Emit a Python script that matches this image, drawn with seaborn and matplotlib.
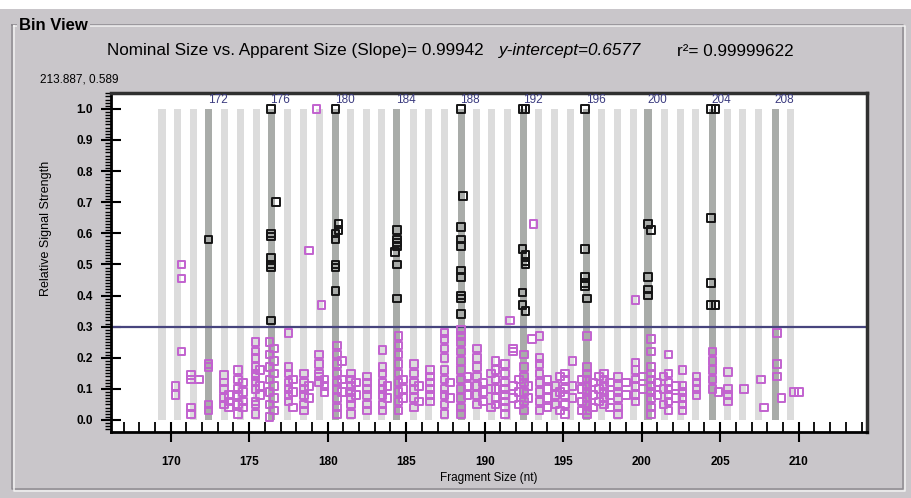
import numpy as np
import pandas as pd
import seaborn as sns
import matplotlib.pyplot as plt
from matplotlib.patches import Rectangle
from matplotlib.lines import Line2D
from matplotlib.ticker import MultipleLocator

# bins (nominal size) and where they sit on the apparent-size axis
bin_nominal = list(range(169, 210))
bin_center = [169.45, 170.45, 171.45, 172.4, 173.45, 174.45, 175.45, 176.4, 177.45, 178.45,
              179.45, 180.5, 181.45, 182.45, 183.45, 184.4, 185.45, 186.45, 187.45, 188.5,
              189.45, 190.45, 191.45, 192.5, 193.45, 194.45, 195.45, 196.5, 197.45, 198.45,
              199.45, 200.4, 201.45, 202.45, 203.45, 204.5, 205.45, 206.45, 207.45, 208.5,
              209.45]
labelled_bins = [172, 176, 180, 184, 188, 192, 196, 200, 204, 208]

# called peaks (black squares), one column per bin
black_cols_x = [172.4, 176.4, 176.7, 180.5, 180.7, 184.4, 184.3, 188.5, 188.6,
                192.4, 192.6, 196.4, 196.5, 200.4, 200.6, 204.4, 204.7]
black_cols_y = [
    [0.58],
    [1.0, 0.60, 0.59, 0.52, 0.50, 0.49, 0.32],
    [0.70],
    [1.0, 0.60, 0.58, 0.50, 0.49, 0.415],
    [0.63, 0.61],
    [0.61, 0.58, 0.57, 0.56, 0.50, 0.39],
    [0.54],
    [1.0, 0.62, 0.58, 0.56, 0.48, 0.46, 0.40, 0.39, 0.34],
    [0.72],
    [1.0, 0.55, 0.41, 0.37],
    [1.0, 0.53, 0.51, 0.50, 0.35],
    [1.0, 0.55, 0.46, 0.44, 0.43],
    [0.39],
    [0.63, 0.46, 0.42, 0.40],
    [0.61],
    [1.0, 0.65, 0.44, 0.37],
    [1.0, 0.37],
]

# other peaks (pink squares)
pink_cols_x = [170.3, 170.7, 171.3, 171.8, 172.4, 173.4, 173.7, 174.3, 174.6, 175.4,
               175.7, 176.3, 176.6, 177.5, 177.8, 178.5, 178.8, 179.3, 179.45, 179.6,
               179.8, 180.6, 180.9, 181.5, 181.8, 182.5, 183.5, 183.8, 184.5, 184.8,
               185.5, 185.8, 186.5, 187.45, 187.8, 188.5, 188.9, 189.5, 189.9, 190.4,
               190.7, 191.3, 191.6, 191.8, 192.2, 192.5, 192.8, 193.0, 193.1, 193.5,
               194.0, 194.5, 194.8, 195.1, 195.6, 196.2, 196.5, 196.9, 197.3, 197.6,
               198.0, 198.5, 199.0, 199.6, 200.1, 200.6, 201.0, 201.4, 201.7, 202.2,
               202.6, 203.5, 204.5, 204.9, 205.5, 206.5, 207.6, 207.8, 208.6, 208.9,
               209.7, 210.0]
pink_cols_y = [
    [0.11, 0.08],
    [0.50, 0.455, 0.22],
    [0.145, 0.13, 0.04, 0.02],
    [0.13],
    [0.18, 0.17, 0.05, 0.03],
    [0.145, 0.12, 0.10, 0.07, 0.05],
    [0.08, 0.06, 0.04],
    [0.16, 0.13, 0.10, 0.08, 0.05, 0.02],
    [0.12, 0.09, 0.06, 0.04],
    [0.25, 0.22, 0.20, 0.17, 0.15, 0.14, 0.12, 0.10, 0.06, 0.05, 0.02],
    [0.16, 0.11, 0.08],
    [0.25, 0.21, 0.17, 0.13, 0.09, 0.05, 0.01],
    [0.23, 0.19, 0.15, 0.11, 0.07, 0.03],
    [0.28, 0.17, 0.15, 0.12, 0.10, 0.08, 0.06],
    [0.13, 0.09, 0.04],
    [0.15, 0.12, 0.10, 0.08, 0.05, 0.03],
    [0.545, 0.11, 0.07],
    [1.0],
    [0.21, 0.18, 0.15, 0.12, 0.14],
    [0.37],
    [0.13, 0.11, 0.09],
    [0.24, 0.21, 0.18, 0.15, 0.12, 0.10, 0.07, 0.04, 0.02],
    [0.19, 0.13, 0.09],
    [0.15, 0.13, 0.11, 0.09, 0.07, 0.05, 0.02],
    [0.12, 0.08],
    [0.14, 0.12, 0.10, 0.08, 0.05, 0.03],
    [0.225, 0.17, 0.15, 0.12, 0.10, 0.08, 0.05, 0.03],
    [0.11, 0.07],
    [0.27, 0.24, 0.21, 0.18, 0.15, 0.12, 0.09, 0.06, 0.03],
    [0.13, 0.10, 0.07],
    [0.18, 0.15, 0.12, 0.10, 0.07, 0.04],
    [0.11, 0.06],
    [0.16, 0.14, 0.12, 0.10, 0.08, 0.06],
    [0.28, 0.26, 0.23, 0.20, 0.16, 0.13, 0.10, 0.08, 0.05, 0.02],
    [0.12, 0.07],
    [0.29, 0.27, 0.25, 0.22, 0.19, 0.16, 0.13, 0.10, 0.07, 0.04, 0.02],
    [0.14, 0.11, 0.08],
    [0.23, 0.20, 0.17, 0.14, 0.11, 0.08, 0.05],
    [0.12, 0.09, 0.06],
    [0.15, 0.10, 0.04],
    [0.19, 0.16, 0.13, 0.10, 0.07, 0.05],
    [0.18, 0.15, 0.12, 0.10, 0.08, 0.06, 0.04, 0.02],
    [0.32],
    [0.23, 0.22, 0.11, 0.07],
    [0.13, 0.09, 0.05],
    [0.21, 0.17, 0.14, 0.12, 0.09, 0.06, 0.03],
    [0.11, 0.07],
    [0.26],
    [0.63],
    [0.27, 0.20, 0.18, 0.15, 0.12, 0.09, 0.06, 0.03],
    [0.13, 0.10, 0.07, 0.04],
    [0.11, 0.08, 0.05],
    [0.14, 0.09, 0.03],
    [0.15, 0.13, 0.10, 0.08, 0.05, 0.02],
    [0.19, 0.11, 0.07],
    [0.13, 0.10, 0.06, 0.03],
    [0.27, 0.17, 0.15, 0.13, 0.11, 0.09, 0.07, 0.05, 0.03, 0.02],
    [0.12, 0.08, 0.04],
    [0.14, 0.10, 0.06],
    [0.15, 0.13, 0.11, 0.09, 0.07, 0.05],
    [0.12, 0.08, 0.04],
    [0.14, 0.11, 0.09, 0.07, 0.04, 0.02],
    [0.12, 0.08],
    [0.385, 0.185, 0.16, 0.13, 0.11, 0.08, 0.06],
    [0.14, 0.10],
    [0.26, 0.22, 0.17, 0.15, 0.13, 0.11, 0.09, 0.07, 0.04, 0.02],
    [0.12, 0.08],
    [0.14, 0.10, 0.05],
    [0.21, 0.15, 0.12, 0.10, 0.08, 0.06, 0.03],
    [0.11, 0.07],
    [0.16, 0.11, 0.09, 0.07, 0.05, 0.03],
    [0.14, 0.12, 0.10, 0.08],
    [0.22, 0.19, 0.16, 0.13, 0.10],
    [0.09],
    [0.155, 0.10, 0.08, 0.06],
    [0.10],
    [0.13],
    [0.04],
    [0.28, 0.18, 0.14],
    [0.07],
    [0.09],
    [0.09],
]

threshold = 0.3
header = "Nominal Size vs. Apparent Size (Slope)= 0.99942"
header_icpt = "y-intercept=0.6577"
header_r2 = "r\u00b2= 0.99999622"
cursor_text = "213.887, 0.589"


def to_frame(cols_x, cols_y, kind):
    rows = []
    for x, ys in zip(cols_x, cols_y):
        for y in ys:
            rows.append((x, y, kind))
    return pd.DataFrame(rows, columns=["size", "strength", "kind"])


peaks = pd.concat([to_frame(pink_cols_x, pink_cols_y, "other"),
                   to_frame(black_cols_x, black_cols_y, "called")])

W, H = 911, 498
win_grey = "#c9c6ca"
fig = plt.figure(figsize=(W / 100, H / 100), dpi=100, facecolor=win_grey)
plt.rcParams["font.family"] = ["Liberation Sans", "DejaVu Sans"]


def fx(px):
    return px / W


def fy(py):
    return 1 - py / H


# white strip on top and etched group box
fig.patches.append(Rectangle((0, fy(9)), 1, 9 / H, transform=fig.transFigure,
                             facecolor="white", edgecolor="none", zorder=0))
for off, col in [(0, "#8e8b90"), (1.5, "#f2f2f2")]:
    fig.lines.append(Line2D([fx(12 + off), fx(12 + off), fx(903 + off), fx(903 + off), fx(12 + off)],
                            [fy(25 + off), fy(489 + off), fy(489 + off), fy(25 + off), fy(25 + off)],
                            transform=fig.transFigure, color=col, lw=1.1))
fig.text(fx(19), fy(25), "Bin View", fontsize=12, fontweight="bold", va="center", ha="left",
         bbox=dict(facecolor=win_grey, edgecolor="none", pad=1.5))

fig.text(fx(107), fy(51), header, fontsize=12.3, va="center", ha="left")
fig.text(fx(499), fy(51), header_icpt, fontsize=12.3, va="center", ha="left", style="italic")
fig.text(fx(677), fy(51), header_r2, fontsize=12.3, va="center", ha="left")
fig.text(fx(40), fy(80), cursor_text, fontsize=8.5, va="center", ha="left")

ax = fig.add_axes([fx(111), fy(432), fx(867 - 111), (432 - 93) / H])
ax.set_facecolor("white")

# bin bands
light = [c for n, c in zip(bin_nominal, bin_center) if n not in labelled_bins]
dark = [c for n, c in zip(bin_nominal, bin_center) if n in labelled_bins]
ax.bar(light, 1.0, width=0.45, bottom=0, color="#dcdcdc", zorder=1)
ax.bar(dark, 1.0, width=0.45, bottom=0, color="#a9aca9", zorder=1)
for n, c in zip(bin_nominal, bin_center):
    if n in labelled_bins:
        ax.text(c - 0.05, 1.027, str(n), fontsize=8.5, color="#3c3c80", ha="left", va="center")

ax.axhline(threshold, color="#47457e", lw=1.6, zorder=2)

sns.scatterplot(data=peaks, x="size", y="strength", hue="kind",
                palette={"other": "#c262cf", "called": "#151515"},
                marker="s", s=30, linewidth=1.4,
                legend=False, ax=ax, zorder=3)
# seaborn fills the markers, so turn them back into outlines
for coll in ax.collections:
    ec = coll.get_facecolors()
    if len(ec):
        coll.set_edgecolors(ec)
        coll.set_facecolors("none")

ax.set_xlim(166.2, 214.35)
ax.set_ylim(-0.0386, 1.051)
ax.xaxis.set_major_locator(MultipleLocator(5))
ax.xaxis.set_minor_locator(MultipleLocator(1))
ax.yaxis.set_minor_locator(MultipleLocator(0.01))
ax.set_yticks(np.arange(0, 1.01, 0.1))
ax.set_yticklabels([f"{v:.1f}" for v in np.arange(0, 1.01, 0.1)])
ax.tick_params(axis="x", which="major", direction="inout", length=14, width=1.5, pad=10, labelsize=8.5)
ax.tick_params(axis="x", which="minor", direction="in", length=7, width=1.3)
ax.tick_params(axis="y", which="major", direction="inout", length=14, width=1.5, pad=6, labelsize=8.5)
ax.tick_params(axis="y", which="minor", direction="out", length=4, width=1)
for lab in ax.get_xticklabels() + ax.get_yticklabels():
    lab.set_fontweight("bold")
for side in ["left", "bottom"]:
    ax.spines[side].set_linewidth(2)
for side in ["top", "right"]:
    ax.spines[side].set_linewidth(2.5)
    ax.spines[side].set_color("#303030")

ax.set_xlabel("Fragment Size (nt)", fontsize=8.5, labelpad=3)
ax.set_ylabel("Relative Signal Strength", fontsize=9)
ax.yaxis.set_label_coords(-0.078, 0.6)

fig.savefig("out.png", dpi=100, facecolor=win_grey)
